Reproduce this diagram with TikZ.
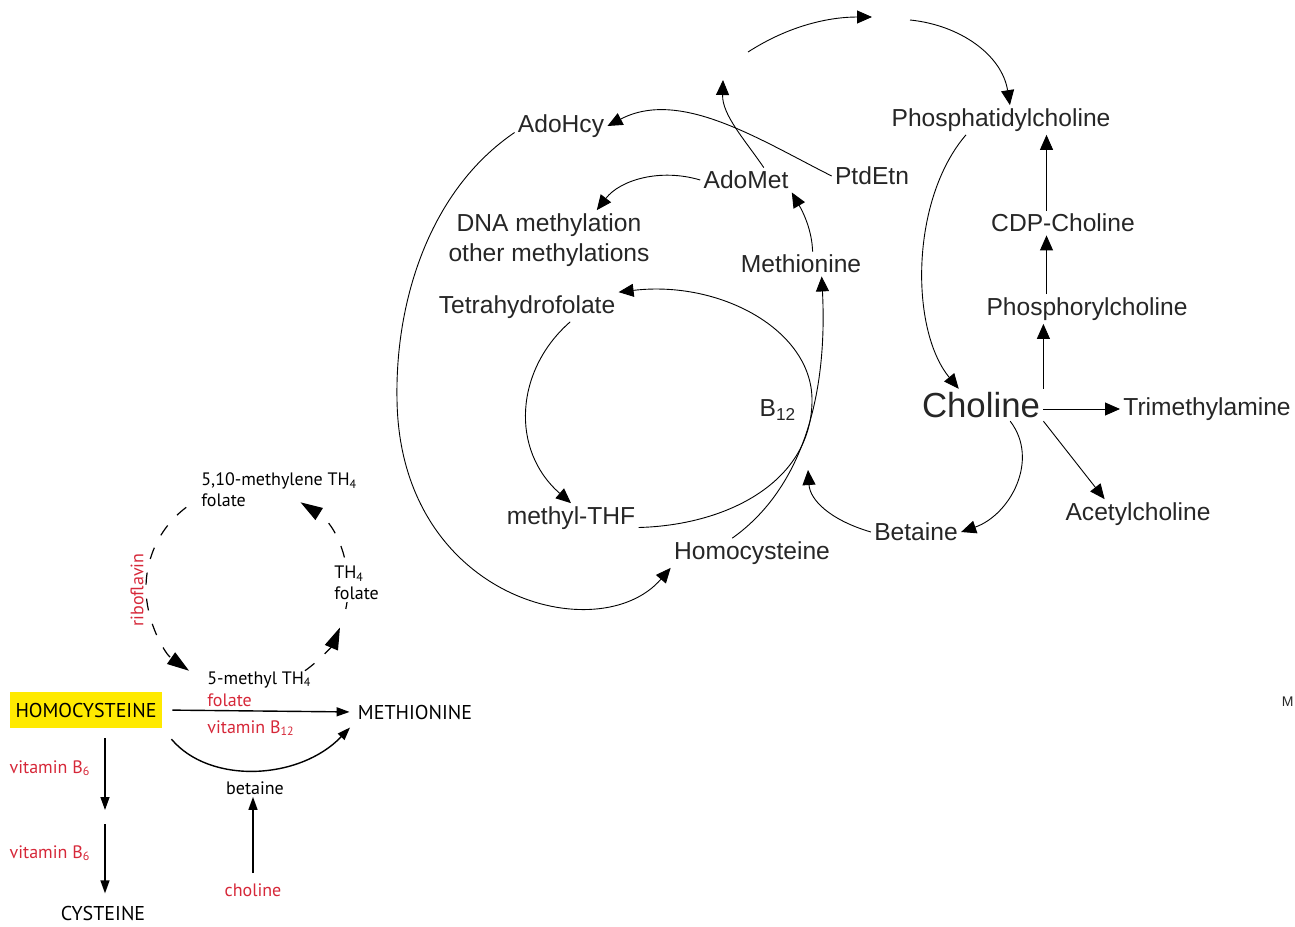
\documentclass[tikz,border=0pt]{standalone}
\usepackage{fontspec}
\setmainfont{Liberation Sans}
\newfontfamily\leftfont{PT Sans}
\usetikzlibrary{arrows.meta,calc}
\definecolor{vitred}{RGB}{214,40,57}
\definecolor{hilite}{RGB}{255,234,0}

\begin{document}
\begin{tikzpicture}
		[x=0.5pt, y=-0.5pt,
		lbl/.style ={font=\fontsize{12.3}{15}\selectfont, text=black!85, inner sep=1.5pt},
		big/.style ={lbl, font=\fontsize{17.4}{20}\selectfont},
		arr/.style ={draw, line width=0.45pt, -{Triangle[length=7.5pt,width=6.5pt]}},
		sm/.style ={font=\leftfont\fontsize{9}{10.5}\selectfont, inner sep=1pt},
		caps/.style ={font=\leftfont\fontsize{10}{12}\selectfont, inner sep=1pt},
		vit/.style ={sm, text=vitred},
		arrl/.style ={draw, line width=0.7pt, -{Triangle[length=6.5pt,width=4.5pt]}},
		cyc/.style ={draw, line width=0.6pt, dash pattern=on 6pt off 7pt, -{Triangle[length=11pt,width=7pt]}},
		]
		\useasboundingbox (0,0) rectangle (1295,926);

		% choline / methionine cycle
		\draw (561,126) node[lbl] (AdoHcy) {AdoHcy};
		\draw (746,180) node[lbl] (AdoMet) {AdoMet};
		\draw (872,176) node[lbl] (PtdEtn) {PtdEtn};
		\draw (549,240) node[lbl, align=center] (DNA) {DNA methylation\\other methylations};
		\draw (801,264) node[lbl] (Met) {Methionine};
		\draw (527,307) node[lbl] (THF) {Tetrahydrofolate};
		\draw (778,410) node[lbl] (B12) {B\textsubscript{12}};
		\draw (571,518) node[lbl] (mTHF) {methyl-THF};
		\draw (752,553) node[lbl] (Hcy) {Homocysteine};
		\draw (916,532) node[lbl] (Bet) {Betaine};
		\draw (1001,120) node[lbl] (PtdCho) {Phosphatidylcholine};
		\draw (1063,223) node[lbl] (CDP) {CDP-Choline};
		\draw (1087,309) node[lbl] (PCho) {Phosphorylcholine};
		\draw (981,405) node[big] (Cho) {Choline};
		\draw (1207,409) node[lbl] (TMA) {Trimethylamine};
		\draw (1138,514) node[lbl] (ACh) {Acetylcholine};
		\draw (1295,702) node[lbl, anchor=east, inner sep=0.5pt, font=\fontsize{7}{8}\selectfont] (cutM) {M};

		\coordinate (gapAin) at (723,80);
		\coordinate (gapAout) at (748,52);
		\coordinate (gapBin) at (872,17);
		\coordinate (gapBout) at (910,20);
		\coordinate (cross) at (808,470);

		\path[arr] (AdoMet.35) .. controls (745,140) and (722,115) .. (gapAin);
		\path[arr] (gapAout) .. controls (790,25) and (830,17) .. (gapBin);
		\path[arr] (gapBout) .. controls (960,25) and (1002,55) .. (PtdCho.59);
		\path[arr] (PtdEtn.west) .. controls (760,140) and (680,88) .. (AdoHcy.east);
		\path[arr] (AdoMet.west) .. controls (660,168) and (620,180) .. (DNA.32);
		\path[arr] (Met.47) .. controls (812,230) and (803,212) .. (AdoMet.south east);
		\path[arr] (mTHF.-8) .. controls (730,525) and (812,480) .. (812,400)
			.. controls (812,330) and (720,280) .. (THF.north east);
		\path[arr] (Hcy.143) .. controls (800,490) and (828,400) .. (Met.-31);
		\path[arr] (Bet.west) .. controls (830,520) and (810,500) .. (cross);
		\path[arr] (THF.-19) .. controls (515,370) and (510,450) .. (mTHF.north);
		\path[arr] (AdoHcy.-172) .. controls (430,190) and (395,300) .. (397,400)
			.. controls (400,600) and (600,650) .. (Hcy.south west);

		\path[arr] (PtdCho.-157) .. controls (910,200) and (910,330) .. (Cho.144);
		\path[arr] (CDP.143) -- (CDP.143 |- PtdCho.south);
		\path[arr] (CDP.143 |- PCho.north) -- (CDP.143 |- CDP.south);
		\path[arr] (Cho.north east) -- (Cho.north east |- PCho.south);
		\path[arr] (Cho.east |- TMA.west) -- (TMA.west);
		\path[arr] (Cho.south east) -- (ACh.156);
		\path[arr] (Cho.-29) .. controls (1040,460) and (1010,515) .. (Bet.east);

		% folate cycle
		\coordinate (cyc) at (247,588);
		\draw[cyc] ($(cyc)+(127:50.5pt)$) arc[start angle=127, end angle=235, radius=50.5pt];
		\draw[cyc] ($(cyc)+(305:50.5pt)$) arc[start angle=305, end angle=337, radius=50.5pt];
		\draw[cyc] ($(cyc)+(-12:50.5pt)$) arc[start angle=-12, end angle=58, radius=50.5pt];

		\draw (86,710) node[caps, fill=hilite, minimum width=76pt, minimum height=18pt] (HCY) {HOMOCYSTEINE};
		\draw (415,712) node[caps] (MET) {METHIONINE};
		\draw (103,913) node[caps] (CYS) {CYSTEINE};
		\draw (50,768) node[vit] (vB6a) {vitamin B\textsubscript{6}};
		\draw (50,853) node[vit] (vB6b) {vitamin B\textsubscript{6}};
		\draw (205,680) node[sm, anchor=west] (mTH4) {5-methyl TH\textsubscript{4}};
		\draw (205,700) node[vit, anchor=west] (folR) {folate};
		\draw (205,728) node[vit, anchor=west] (vB12) {vitamin B\textsubscript{12}};
		\draw (199,490) node[sm, anchor=west, align=left] (mlTH4) {5,10-methylene TH\textsubscript{4}\\folate};
		\draw (332,583) node[sm, anchor=west, align=left, fill=white] (TH4) {TH\textsubscript{4}\\folate};
		\draw (255,788) node[sm] (betL) {betaine};
		\draw (253,890) node[vit] (choL) {choline};
		\draw (137,590) node[vit, rotate=90] (ribo) {riboflavin};

		\coordinate (cysGap) at (105,816);
		\path[arrl, shorten <=5pt, shorten >=3pt] (HCY.east) -- (MET.west);
		\path[arrl, shorten <=7pt, shorten >=4pt] (HCY.south east) .. controls (210,785) and (300,780) .. (MET.south west);
		\path[arrl, shorten <=5pt, shorten >=3pt] (HCY.south -| cysGap) -- (cysGap);
		\path[arrl, shorten <=4pt, shorten >=5pt] (cysGap) -- (cysGap |- CYS.north);
		\path[arrl, shorten <=4pt] (choL.north) -- (choL.north |- betL.south);
	\end{tikzpicture}
\end{document}
